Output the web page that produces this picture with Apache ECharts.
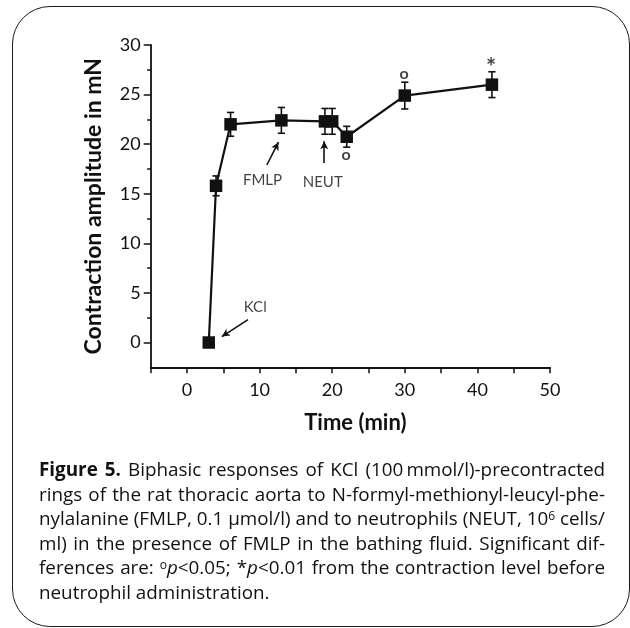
<!DOCTYPE html>
<html>
<head>
<meta charset="utf-8">
<script src="https://cdn.jsdelivr.net/npm/echarts@6/dist/echarts.min.js"></script>
<style>
  html, body { margin: 0; padding: 0; background: #fff; }
  #wrap { position: relative; width: 630px; height: 628px; overflow: hidden; background: #fff; }
  #frame { position: absolute; left: 12px; top: 6px; width: 616px; height: 619px; border: 1.6px solid #1a1a1a; border-radius: 38px; }
  #chart { position: absolute; left: 0; top: 0; width: 630px; height: 628px; }
  #caption { position: absolute; left: 39px; top: 457px; width: 566px; font-family: "Open Sans", Lato, sans-serif; font-size: 16.5px; line-height: 24.5px; color: #111; }
  #caption div { white-space: nowrap; height: 24.5px; }
  #caption sup { font-size: 0.64em; line-height: 0; vertical-align: 0.38em; }
</style>
</head>
<body>
<div id="wrap">
  <div id="frame"></div>
  <div id="chart"></div>
  <div id="caption">
    <div><span><b>Figure 5.</b> Biphasic responses of KCl (100&#8201;mmol/l)-precontracted</span></div>
    <div><span>rings of the rat thoracic aorta to N-formyl-methionyl-leucyl-phe-</span></div>
    <div><span>nylalanine (FMLP, 0.1 µmol/l) and to neutrophils (NEUT, 10<sup>6</sup> cells/</span></div>
    <div><span>ml) in the presence of FMLP in the bathing fluid. Significant dif-</span></div>
    <div><span>ferences are: <sup>o</sup><i>p</i>&lt;0.05; *<i>p</i>&lt;0.01 from the contraction level before</span></div>
    <div class="last"><span>neutrophil administration.</span></div>
  </div>
</div>
<script>
// ---- data ----
const times = [3, 4, 6, 13, 19, 20, 22, 30, 42];
const amplitude = [0, 15.8, 22.0, 22.4, 22.3, 22.3, 20.75, 24.9, 26.0];
const sem = [0, 1.0, 1.2, 1.3, 1.3, 1.3, 1.05, 1.35, 1.3];

const xTickValues = [-5, 0, 5, 10, 15, 20, 25, 30, 35, 40, 45, 50];
const xLabelValues = [0, 10, 20, 30, 40, 50];
const yLabelValues = [0, 5, 10, 15, 20, 25, 30];
const yMinorTickValues = [2.5, 7.5, 12.5, 17.5, 22.5, 27.5];

// annotation words and their positions in data units
const noteText = ['FMLP', 'NEUT', 'KCl'];
const noteX = [10.4, 18.7, 9.4];
const noteY = [16.4, 16.2, 3.6];
// arrows: tail -> head, in data units
const arrowFrom = [[11.0, 17.9], [18.9, 18.1], [8.4, 2.3]];
const arrowTo = [[12.6, 20.2], [18.9, 20.3], [4.8, 0.6]];
// significance marks
const sigText = ['o', 'o', '*'];
const sigX = [21.9, 29.9, 41.9];
const sigY = [18.9, 27.1, 27.7];

const FONT = 'Lato, "Open Sans", sans-serif';
const INK = '#111';

const lineData = times.map((t, i) => [t, amplitude[i]]);
const errData = times.map((t, i) => [t, amplitude[i], sem[i]]);
const noteData = noteText.map((s, i) => [noteX[i], noteY[i], s]);
const sigData = sigText.map((s, i) => ({ value: [sigX[i], sigY[i], s], label: s === '*' ? { fontSize: 24 } : {} }));
const arrowData = arrowFrom.map((f, i) => [{ coord: f }, { coord: arrowTo[i] }]);

const chart = echarts.init(document.getElementById('chart'), null, { renderer: 'canvas' });
chart.setOption({
  animation: false,
  backgroundColor: 'transparent',
  grid: { left: 150.7, right: 80, top: 45, bottom: 260.7, outerBoundsMode: 'none', containLabel: false },
  xAxis: {
    type: 'value', min: -5, max: 50, interval: 5,
    name: 'Time (min)', nameLocation: 'middle', nameGap: 45,
    nameTextStyle: { fontFamily: FONT, fontWeight: 'bold', fontSize: 22, color: INK, padding: [0, 0, 0, 10] },
    axisLine: { onZero: false, lineStyle: { color: INK, width: 1.8 } },
    axisTick: { show: true, inside: false, length: 6, lineStyle: { color: INK, width: 1.5 }, customValues: xTickValues },
    axisLabel: { fontFamily: FONT, fontSize: 18, color: INK, margin: 14, customValues: xLabelValues },
    splitLine: { show: false }
  },
  yAxis: [{
    type: 'value', min: -2.5, max: 30, interval: 2.5,
    name: 'Contraction amplitude in mN', nameLocation: 'middle', nameGap: 46, nameRotate: 90,
    nameTextStyle: { fontFamily: FONT, fontWeight: 'bold', fontSize: 23, color: INK },
    axisLine: { show: true, onZero: false, lineStyle: { color: INK, width: 1.8 } },
    axisTick: { show: true, length: 7, lineStyle: { color: INK, width: 1.5 }, customValues: yLabelValues },
    axisLabel: { fontFamily: FONT, fontSize: 18, color: INK, margin: 10, customValues: yLabelValues },
    splitLine: { show: false }
  }, {
    type: 'value', min: -2.5, max: 30, interval: 2.5, position: 'left', offset: 0,
    axisLine: { show: false, onZero: false },
    axisTick: { show: true, length: 3.5, lineStyle: { color: INK, width: 1.5 }, customValues: yMinorTickValues },
    axisLabel: { show: false },
    splitLine: { show: false }
  }],
  series: [
    {
      type: 'custom',
      data: errData,
      z: 3,
      renderItem: function (params, api) {
        const x = api.value(0), y = api.value(1), e = api.value(2);
        if (!e) return null;
        const top = api.coord([x, y + e]);
        const bot = api.coord([x, y - e]);
        const hw = 3.6;
        const st = { stroke: INK, lineWidth: 1.6 };
        return {
          type: 'group',
          children: [
            { type: 'line', shape: { x1: top[0], y1: top[1], x2: bot[0], y2: bot[1] }, style: st },
            { type: 'line', shape: { x1: top[0] - hw, y1: top[1], x2: top[0] + hw, y2: top[1] }, style: st },
            { type: 'line', shape: { x1: bot[0] - hw, y1: bot[1], x2: bot[0] + hw, y2: bot[1] }, style: st }
          ]
        };
      }
    },
    {
      type: 'line',
      data: lineData,
      z: 4,
      symbol: 'rect',
      symbolSize: 12.5,
      showSymbol: true,
      lineStyle: { color: INK, width: 2.2 },
      itemStyle: { color: INK },
      silent: true
    },
    {
      type: 'scatter',
      data: noteData,
      symbolSize: 0,
      silent: true,
      label: {
        show: true, position: 'inside',
        formatter: p => p.value[2],
        fontFamily: FONT, fontSize: 15, color: INK
      },
      markLine: {
        silent: true,
        symbol: ['none', 'arrow'],
        symbolSize: [6, 8],
        label: { show: false },
        lineStyle: { color: INK, width: 1.6, type: 'solid' },
        data: arrowData
      }
    },
    {
      type: 'scatter',
      data: sigData,
      symbolSize: 0,
      silent: true,
      label: {
        show: true, position: 'inside',
        formatter: p => p.value[2],
        fontFamily: FONT, fontWeight: 'bold', fontSize: 16, color: INK
      }
    }
  ]
});

// size the caption font so its lines fill the width, then justify all but the last line
function layoutCaption() {
  const cap = document.getElementById('caption');
  const W = cap.clientWidth;
  const divs = Array.from(cap.querySelectorAll('div'));
  const spans = divs.map(d => d.querySelector('span'));
  spans.forEach(s => { s.style.wordSpacing = '0px'; });
  cap.style.fontSize = '16.5px';
  const widths = spans.map(s => s.getBoundingClientRect().width);
  const full = widths.filter((w, i) => !divs[i].classList.contains('last'));
  const avg = full.reduce((a, b) => a + b, 0) / full.length;
  const maxW = Math.max.apply(null, full);
  let fs = 16.5 * Math.min((W - 6) / avg, W / maxW);
  cap.style.fontSize = fs.toFixed(2) + 'px';
  divs.forEach((div, i) => {
    if (div.classList.contains('last')) return;
    const span = spans[i];
    const w = span.getBoundingClientRect().width;
    const n = (span.textContent.match(/ /g) || []).length;
    if (n > 0) span.style.wordSpacing = ((W - w) / n) + 'px';
  });
}
layoutCaption();
if (document.fonts && document.fonts.ready) document.fonts.ready.then(layoutCaption);
</script>
</body>
</html>
